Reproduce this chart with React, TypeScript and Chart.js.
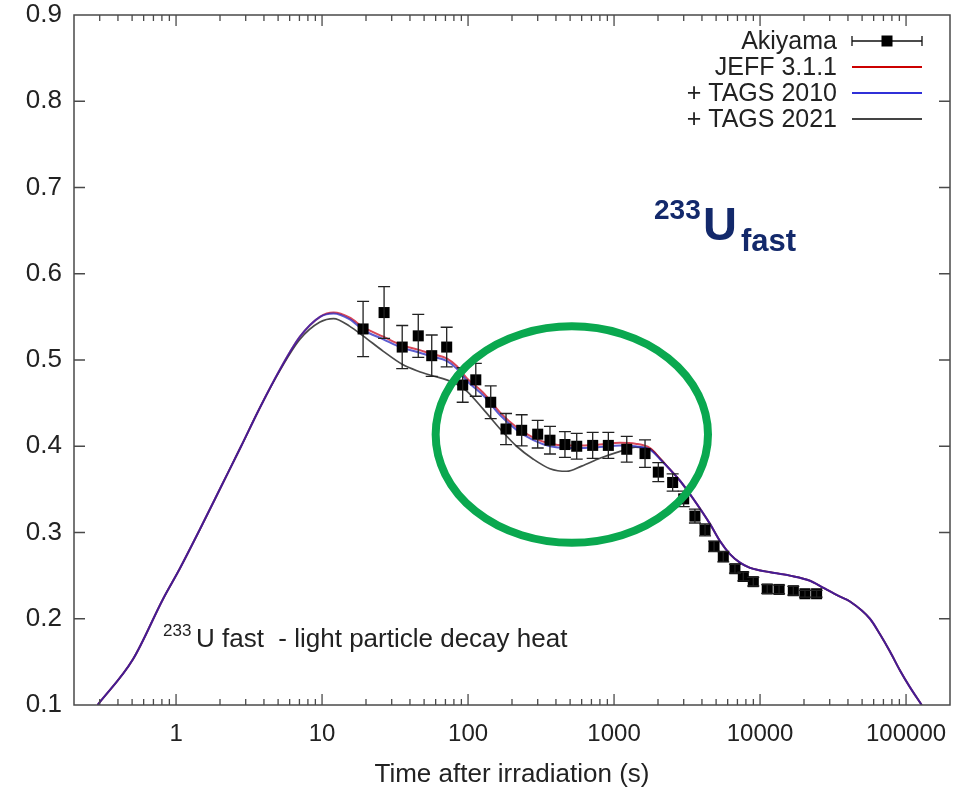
import React, { useEffect, useRef } from 'react';
import { Chart, registerables } from 'chart.js';

Chart.register(...registerables);

const FONT = '"Liberation Sans", Arial, Helvetica, sans-serif';

// ---------- axes ----------
const xMin = 0.2;
const xMax = 200000;
const yMin = 0.1;
const yMax = 0.9;
const xTickValues = [1, 10, 100, 1000, 10000, 100000];
const yTickValues = [0.1, 0.2, 0.3, 0.4, 0.5, 0.6, 0.7, 0.8, 0.9];

// ---------- Akiyama measurements ----------
const akiyamaTime = [19.1, 26.6, 35.4, 45.6, 56.4, 71.4, 91.9, 113, 143, 182, 233, 300, 364, 461, 555, 714, 914, 1222, 1630, 2010, 2520, 3000, 3580, 4200, 4840, 5600, 6730, 7680, 8990, 11200, 13500, 16900, 20300, 24400];
const akiyamaValue = [0.536, 0.555, 0.515, 0.528, 0.505, 0.515, 0.471, 0.477, 0.451, 0.42, 0.4185, 0.414, 0.407, 0.402, 0.4, 0.401, 0.401, 0.3965, 0.3915, 0.37, 0.358, 0.339, 0.319, 0.303, 0.284, 0.272, 0.258, 0.249, 0.243, 0.2345, 0.234, 0.2325, 0.229, 0.229];
const akiyamaError = [0.032, 0.03, 0.025, 0.025, 0.024, 0.023, 0.02, 0.019, 0.019, 0.018, 0.018, 0.016, 0.016, 0.015, 0.015, 0.015, 0.015, 0.015, 0.016, 0.011, 0.01, 0.009, 0.008, 0.007, 0.006, 0.006, 0.005, 0.005, 0.005, 0.005, 0.005, 0.005, 0.004, 0.004];

// ---------- calculations ----------
const curveTime = [0.29, 0.507, 0.815, 1.06, 1.46, 2.06, 2.79, 3.76, 5.15, 7.06, 9.68, 12, 15.5, 19.1, 26.3, 35.4, 45.6, 56.4, 71.4, 83.6, 98, 127, 166, 215, 280, 364, 474, 600, 800, 1100, 1400, 1763, 2064, 2417, 2830, 3490, 4540, 5320, 6220, 7290, 8540, 10000, 11700, 16000, 22000, 27000, 35000, 41300, 56600, 66300, 77600, 90900, 106000, 128000];
const jeffValue = [0.1, 0.153, 0.223, 0.258, 0.304, 0.355, 0.4, 0.445, 0.489, 0.527, 0.55, 0.555, 0.549, 0.538, 0.527, 0.517, 0.512, 0.507, 0.502, 0.493, 0.479, 0.462, 0.439, 0.422, 0.41, 0.403, 0.401, 0.401, 0.402, 0.404, 0.403, 0.398, 0.386, 0.373, 0.36, 0.339, 0.31, 0.29, 0.275, 0.265, 0.259, 0.256, 0.254, 0.25, 0.244, 0.236, 0.226, 0.22, 0.2, 0.182, 0.162, 0.14, 0.121, 0.1];
const tags2010Value = [0.1, 0.153, 0.223, 0.258, 0.304, 0.355, 0.4, 0.445, 0.489, 0.527, 0.55, 0.554, 0.547, 0.535, 0.524, 0.514, 0.509, 0.504, 0.499, 0.49, 0.476, 0.459, 0.436, 0.419, 0.407, 0.4, 0.398, 0.398, 0.399, 0.401, 0.4, 0.396, 0.385, 0.373, 0.36, 0.339, 0.31, 0.29, 0.275, 0.265, 0.259, 0.256, 0.254, 0.25, 0.244, 0.236, 0.226, 0.22, 0.2, 0.182, 0.162, 0.14, 0.121, 0.1];
const tags2021Value = [0.1, 0.153, 0.223, 0.258, 0.304, 0.355, 0.4, 0.445, 0.488, 0.524, 0.544, 0.548, 0.539, 0.528, 0.51, 0.495, 0.487, 0.482, 0.477, 0.472, 0.464, 0.443, 0.42, 0.4, 0.385, 0.374, 0.371, 0.377, 0.386, 0.394, 0.399, 0.397, 0.386, 0.373, 0.36, 0.339, 0.31, 0.29, 0.275, 0.265, 0.259, 0.256, 0.254, 0.25, 0.244, 0.236, 0.226, 0.22, 0.2, 0.182, 0.162, 0.14, 0.121, 0.1];

// ---------- text ----------
const legendLabels = ['Akiyama', 'JEFF 3.1.1', '+ TAGS 2010', '+ TAGS 2021'];
const legendColors = ['#111111', '#cc0000', '#3030d8', '#444444'];
const xTitle = 'Time after irradiation (s)';
const noteMass = '233';
const noteText = 'U fast  - light particle decay heat';
const badgeMass = '233';
const badgeSymbol = 'U';
const badgeSub = 'fast';
// highlighted region (data coordinates of the ellipse bounding box)
const highlightTime = [60, 4400];
const highlightValue = [0.288, 0.539];

const toXY = (xs: number[], ys: number[]) => xs.map((x, i) => ({ x, y: ys[i] }));

const decorPlugin = {
  id: 'decor',
  afterDatasetsDraw(chart: any) {
    const { ctx, scales } = chart;
    const x = scales.x;
    const y = scales.y;
    ctx.save();
    ctx.strokeStyle = '#222';
    ctx.lineWidth = 1.3;
    akiyamaTime.forEach((t, i) => {
      const px = x.getPixelForValue(t);
      const top = y.getPixelForValue(akiyamaValue[i] + akiyamaError[i]);
      const bot = y.getPixelForValue(akiyamaValue[i] - akiyamaError[i]);
      ctx.beginPath();
      ctx.moveTo(px, top);
      ctx.lineTo(px, bot);
      ctx.moveTo(px - 6, top);
      ctx.lineTo(px + 6, top);
      ctx.moveTo(px - 6, bot);
      ctx.lineTo(px + 6, bot);
      ctx.stroke();
    });
    ctx.restore();
  },
  afterDraw(chart: any) {
    const { ctx, chartArea: a, scales } = chart;
    const x = scales.x;
    const y = scales.y;
    ctx.save();

    // frame
    ctx.strokeStyle = '#4a4a4a';
    ctx.lineWidth = 1.5;
    ctx.strokeRect(a.left, a.top, a.right - a.left, a.bottom - a.top);

    // inward ticks, mirrored
    ctx.lineWidth = 1.3;
    ctx.beginPath();
    for (let d = -1; d <= 5; d++) {
      for (let m = 1; m <= 9; m++) {
        const v = m * Math.pow(10, d);
        if (v <= xMin * 1.0001 || v >= xMax * 0.9999) continue;
        const px = x.getPixelForValue(v);
        const len = m === 1 ? 11 : 6;
        ctx.moveTo(px, a.bottom);
        ctx.lineTo(px, a.bottom - len);
        ctx.moveTo(px, a.top);
        ctx.lineTo(px, a.top + len);
      }
    }
    yTickValues.forEach((v) => {
      if (v <= yMin + 1e-6 || v >= yMax - 1e-6) return;
      const py = y.getPixelForValue(v);
      ctx.moveTo(a.left, py);
      ctx.lineTo(a.left + 11, py);
      ctx.moveTo(a.right, py);
      ctx.lineTo(a.right - 11, py);
    });
    ctx.stroke();

    // x title
    ctx.fillStyle = '#222';
    ctx.font = `26px ${FONT}`;
    ctx.textAlign = 'center';
    ctx.textBaseline = 'middle';
    ctx.fillText(xTitle, (a.left + a.right) / 2, a.bottom + 70);

    // legend
    ctx.textAlign = 'right';
    ctx.font = `25px ${FONT}`;
    const lx0 = a.right - 98;
    const lx1 = a.right - 28;
    legendLabels.forEach((lab, i) => {
      const ly = a.top + 26 + i * 26;
      ctx.fillStyle = '#222';
      ctx.fillText(lab, a.right - 113, ly + 1);
      ctx.strokeStyle = legendColors[i];
      ctx.lineWidth = i === 0 ? 1.3 : 1.8;
      ctx.beginPath();
      ctx.moveTo(lx0, ly);
      ctx.lineTo(lx1, ly);
      if (i === 0) {
        ctx.moveTo(lx0, ly - 5);
        ctx.lineTo(lx0, ly + 5);
        ctx.moveTo(lx1, ly - 5);
        ctx.lineTo(lx1, ly + 5);
      }
      ctx.stroke();
      if (i === 0) {
        ctx.fillStyle = '#000';
        ctx.fillRect((lx0 + lx1) / 2 - 5.5, ly - 5.5, 11, 11);
      }
    });

    // note text inside plot
    ctx.textAlign = 'left';
    ctx.textBaseline = 'alphabetic';
    ctx.fillStyle = '#222';
    ctx.font = `17px ${FONT}`;
    ctx.fillText(noteMass, a.left + 89, a.bottom - 69);
    ctx.font = `26px ${FONT}`;
    ctx.fillText(noteText, a.left + 122, a.bottom - 58);

    // badge 233U_fast
    ctx.fillStyle = '#13296b';
    ctx.font = `bold 28px ${FONT}`;
    ctx.fillText(badgeMass, 654, 219);
    ctx.font = `bold 47px ${FONT}`;
    ctx.fillText(badgeSymbol, 703, 240);
    ctx.font = `bold 31px ${FONT}`;
    ctx.fillText(badgeSub, 741, 251);

    // green ellipse
    const ex0 = x.getPixelForValue(highlightTime[0]);
    const ex1 = x.getPixelForValue(highlightTime[1]);
    const ey0 = y.getPixelForValue(highlightValue[1]);
    const ey1 = y.getPixelForValue(highlightValue[0]);
    ctx.strokeStyle = '#0aa84f';
    ctx.lineWidth = 8;
    ctx.beginPath();
    ctx.ellipse((ex0 + ex1) / 2, (ey0 + ey1) / 2, (ex1 - ex0) / 2, (ey1 - ey0) / 2, 0, 0, Math.PI * 2);
    ctx.stroke();

    ctx.restore();
  },
};

export default function App() {
  const ref = useRef<HTMLCanvasElement | null>(null);

  useEffect(() => {
    if (!ref.current) return;
    Chart.defaults.font.family = FONT;
    const chart = new Chart(ref.current, {
      type: 'line',
      data: {
        datasets: [
          {
            label: legendLabels[0],
            data: toXY(akiyamaTime, akiyamaValue),
            showLine: false,
            pointStyle: 'rect',
            pointRadius: 7.8,
            pointBackgroundColor: '#000',
            pointBorderColor: '#000',
            pointBorderWidth: 0,
          },
          {
            label: legendLabels[2],
            data: toXY(curveTime, tags2010Value),
            borderColor: 'rgba(30,30,190,0.72)',
            borderWidth: 2,
            pointRadius: 0,
            cubicInterpolationMode: 'monotone',
          },
          {
            label: legendLabels[1],
            data: toXY(curveTime, jeffValue),
            borderColor: 'rgba(200,0,24,0.72)',
            borderWidth: 2,
            pointRadius: 0,
            cubicInterpolationMode: 'monotone',
          },
          {
            label: legendLabels[3],
            data: toXY(curveTime, tags2021Value),
            borderColor: '#4a4a4a',
            borderWidth: 1.7,
            pointRadius: 0,
            cubicInterpolationMode: 'monotone',
          },
        ],
      },
      options: {
        animation: false,
        responsive: false,
        devicePixelRatio: 1,
        layout: { padding: { top: 15, right: 21, left: 0, bottom: 0 } },
        plugins: { legend: { display: false }, tooltip: { enabled: false }, title: { display: false } },
        scales: {
          x: {
            type: 'logarithmic',
            min: xMin,
            max: xMax,
            grid: { display: false, drawTicks: false },
            border: { display: false },
            afterBuildTicks: (s: any) => {
              s.ticks = xTickValues.map((v) => ({ value: v }));
            },
            afterFit: (s: any) => {
              s.height = 83;
              s.paddingLeft = 0;
              s.paddingRight = 0;
            },
            ticks: {
              autoSkip: false,
              maxRotation: 0,
              padding: 15,
              color: '#222',
              font: { size: 24, family: FONT },
              callback: (v: any) => String(v),
            },
          },
          y: {
            type: 'linear',
            min: yMin,
            max: yMax,
            grid: { display: false, drawTicks: false },
            border: { display: false },
            afterBuildTicks: (s: any) => {
              s.ticks = yTickValues.map((v) => ({ value: v }));
            },
            afterFit: (s: any) => {
              s.width = 74;
              s.paddingTop = 0;
              s.paddingBottom = 0;
            },
            ticks: {
              padding: 12,
              color: '#222',
              font: { size: 26, family: FONT },
              callback: (v: any) => Number(v).toFixed(1),
            },
          },
        },
      },
      plugins: [decorPlugin],
    });
    return () => chart.destroy();
  }, []);

  return (
    <div style={{ position: 'fixed', left: 0, top: 0, width: 971, height: 788, background: '#fff' }}>
      <canvas ref={ref} width={971} height={788} style={{ width: 971, height: 788, display: 'block' }} />
    </div>
  );
}
